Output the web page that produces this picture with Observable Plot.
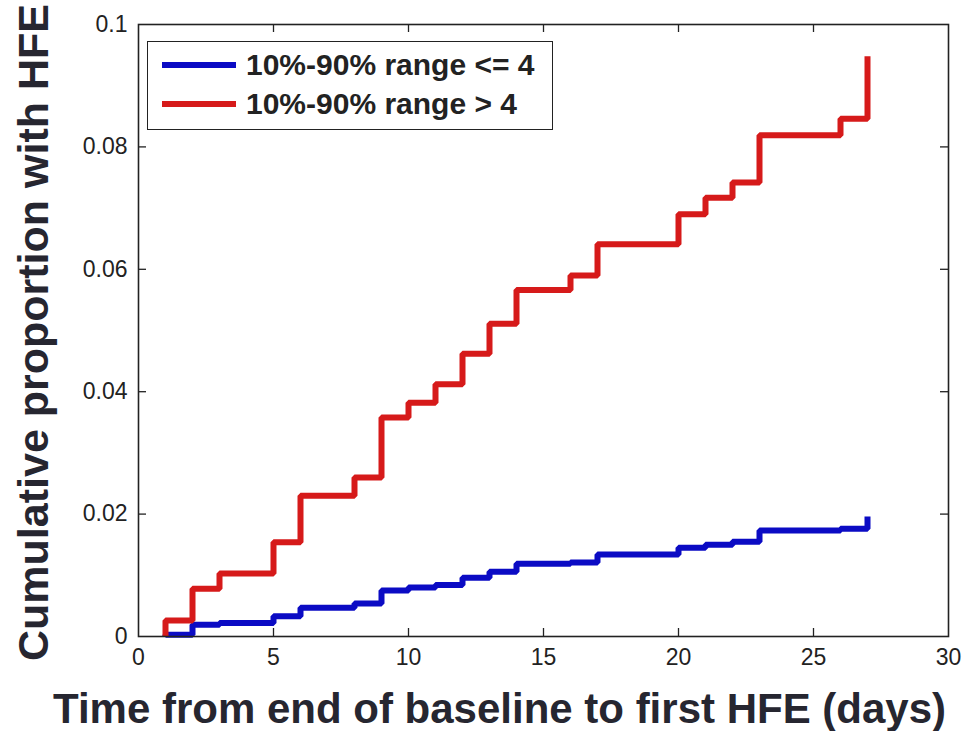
<!DOCTYPE html>
<html>
<head>
<meta charset="utf-8">
<script src="https://cdn.jsdelivr.net/npm/d3@7"></script>
<script src="https://cdn.jsdelivr.net/npm/@observablehq/plot@0.6"></script>
<style>
  html, body { margin: 0; padding: 0; background: #fff; }
  #wrap { position: relative; width: 967px; height: 731px; }
  #legend {
    position: absolute; left: 147px; top: 41px; width: 404px; height: 87px;
    border: 1.5px solid #222; background: #fff;
    font-family: "Liberation Sans", Arial, sans-serif; font-weight: bold; font-size: 30px; color: #222;
  }
  .row { position: absolute; left: 0; height: 34px; display: flex; align-items: center; }
  .sw { width: 74px; height: 6px; margin-left: 14px; margin-right: 10px; }
</style>
</head>
<body>
<div id="wrap"></div>
<script>
// ---- data ----
const days = [1, 1, 2, 3, 5, 6, 8, 9, 10, 11, 12, 13, 14, 16, 17, 20, 21, 22, 23, 26, 27];
const blueValues = [0, 0.0003, 0.0019, 0.0022, 0.0033, 0.0047, 0.0054, 0.0075, 0.0080, 0.0084, 0.0096, 0.0106, 0.0119, 0.0121, 0.0134, 0.0145, 0.0150, 0.0155, 0.0173, 0.0176, 0.0196];
const redValues  = [0, 0.0026, 0.0078, 0.0103, 0.0154, 0.0230, 0.0260, 0.0358, 0.0382, 0.0412, 0.0462, 0.0511, 0.0566, 0.0590, 0.0641, 0.0690, 0.0717, 0.0742, 0.0819, 0.0846, 0.0948];
const seriesNames = ["10%-90% range <= 4", "10%-90% range > 4"];
const seriesColors = ["#0b0bc4", "#d61a1a"];
const xTicks = [0, 5, 10, 15, 20, 25, 30];
const yTicks = [0, 0.02, 0.04, 0.06, 0.08, 0.1];
const xLabel = "Time from end of baseline to first HFE (days)";
const yLabel = "Cumulative proportion with HFE";

const blue = days.map((d, i) => ({day: d, p: blueValues[i]}));
const red = days.map((d, i) => ({day: d, p: redValues[i]}));

const W = 967, H = 731, mt = 24, mb = 95, ml = 138, mr = 19;
const innerH = H - mt - mb, innerW = W - ml - mr;
const tk = 8;

const chart = Plot.plot({
  width: W, height: H,
  marginTop: mt, marginBottom: mb, marginLeft: ml, marginRight: mr,
  style: {fontFamily: "Liberation Sans, Arial, sans-serif", fontSize: "23px", color: "#222", background: "#fff"},
  x: {domain: [0, 30]},
  y: {domain: [0, 0.1]},
  marks: [
    // inward ticks (MATLAB style) on all four sides
    Plot.ruleX(xTicks.slice(1, -1), {insetTop: innerH - tk, stroke: "#222", strokeWidth: 1.3}),
    Plot.ruleX(xTicks.slice(1, -1), {insetBottom: innerH - tk, stroke: "#222", strokeWidth: 1.3}),
    Plot.ruleY(yTicks.slice(1, -1), {insetRight: innerW - tk, stroke: "#222", strokeWidth: 1.3}),
    Plot.ruleY(yTicks.slice(1, -1), {insetLeft: innerW - tk, stroke: "#222", strokeWidth: 1.3}),
    Plot.axisX({ticks: xTicks, tickSize: 0, tickPadding: 12, fontSize: 23, label: null, tickFormat: d => String(d)}),
    Plot.axisY({ticks: yTicks, tickSize: 0, tickPadding: 11, fontSize: 23, label: null, tickFormat: d => String(d)}),
    Plot.line(blue, {x: "day", y: "p", curve: "step-after", stroke: seriesColors[0], strokeWidth: 6, strokeLinejoin: "miter", strokeLinecap: "butt"}),
    Plot.line(red, {x: "day", y: "p", curve: "step-after", stroke: seriesColors[1], strokeWidth: 6, strokeLinejoin: "miter", strokeLinecap: "butt"}),
    Plot.frame({stroke: "#222", strokeWidth: 1.6}),
    Plot.text([xLabel], {frameAnchor: "bottom", textAnchor: "middle", dx: -44, dy: 86, fontSize: 42, fontWeight: "bold", fill: "#262630"}),
    Plot.text([yLabel], {frameAnchor: "left", textAnchor: "middle", lineAnchor: "middle", rotate: -90, dx: -104, dy: 2, fontSize: 43, fontWeight: "bold", fill: "#262630"})
  ]
});

const wrap = document.getElementById("wrap");
wrap.appendChild(chart);

const legend = document.createElement("div");
legend.id = "legend";
seriesNames.forEach((name, i) => {
  const row = document.createElement("div");
  row.className = "row";
  row.style.top = (6 + i * 39) + "px";
  const sw = document.createElement("div");
  sw.className = "sw";
  sw.style.background = seriesColors[i];
  const t = document.createElement("span");
  t.textContent = name;
  row.appendChild(sw);
  row.appendChild(t);
  legend.appendChild(row);
});
wrap.appendChild(legend);
</script>
</body>
</html>
